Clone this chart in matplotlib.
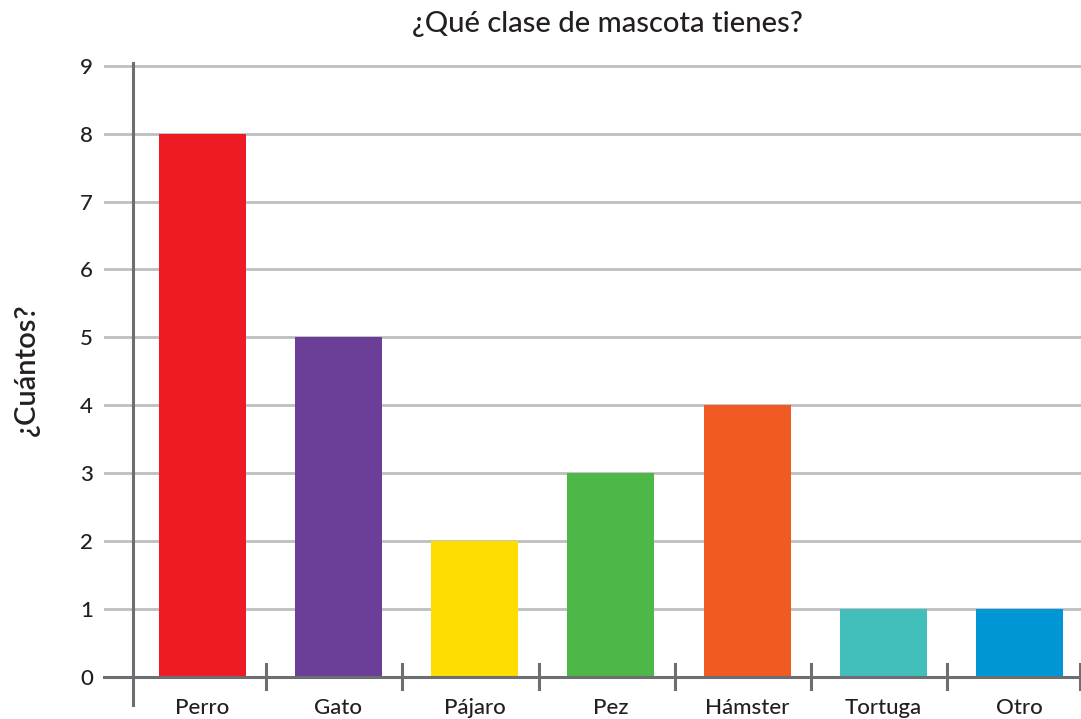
import matplotlib
matplotlib.use("Agg")
import matplotlib.pyplot as plt
import numpy as np

categories = ["Perro", "Gato", "Pájaro", "Pez", "Hámster", "Tortuga", "Otro"]
values = [8, 5, 2, 3, 4, 1, 1]
colors = ["#ED1C24", "#6B3F98", "#FFDD00", "#4DB848", "#F15A22", "#42BFBB", "#0096D6"]
yticks = list(range(0, 10))
title = "¿Qué clase de mascota tienes?"
ylabel = "¿Cuántos?"

plt.rcParams['font.family'] = ['Lato', 'DejaVu Sans']

W, H = 1081, 719
fig = plt.figure(figsize=(W / 100, H / 100), dpi=100)
# axes spans px x 104..1081, y 63..677
left, right = 104, 1081
top, bottom = 63, 677
ax = fig.add_axes([left / W, 1 - bottom / H, (right - left) / W, (bottom - top) / H])

x = np.arange(len(categories))
ax.set_xlim(-0.72, 6.45)
ax.set_ylim(0, 9.04)

grid_c = "#BCBEC0"
axis_c = "#6D6E71"
txt_c = "#231F20"
for t in yticks[1:]:
    ax.axhline(t, color=grid_c, lw=2, zorder=1)

ax.bar(x, values, width=0.64, color=colors, zorder=2)

# baseline
ax.axhline(0, color=axis_c, lw=2.2, zorder=3, clip_on=False)
# y axis line
ax.plot([-0.51, -0.51], [-0.41, 9.04], color=axis_c, lw=2.2, zorder=3, clip_on=False)
# boundary ticks
for b in x[:-1] + 0.47:
    ax.plot([b, b], [-0.17, 0.19], color=axis_c, lw=2.2, zorder=3, clip_on=False)
ax.plot([6.44, 6.44], [-0.17, 0.19], color=axis_c, lw=2.2, zorder=3, clip_on=False)

for s in ax.spines.values():
    s.set_visible(False)

ax.set_yticks(yticks)
ax.set_yticklabels([str(t) for t in yticks], fontsize=16, color=txt_c, fontweight='medium')
ax.tick_params(axis='y', length=0, pad=8)
ax.set_xticks(x)
ax.set_xticklabels(categories, fontsize=16, color=txt_c, fontweight='medium')
ax.tick_params(axis='x', length=0, pad=15)

fig.text(607 / W, 1 - 24 / H, title, fontsize=21, ha='center', va='center', color=txt_c,
         fontweight='medium')
fig.text(27 / W, 1 - 370 / H, ylabel, fontsize=21, rotation=90, ha='center', va='center',
         color=txt_c, fontweight='semibold')

fig.savefig("out.png", dpi=100, facecolor="white")
